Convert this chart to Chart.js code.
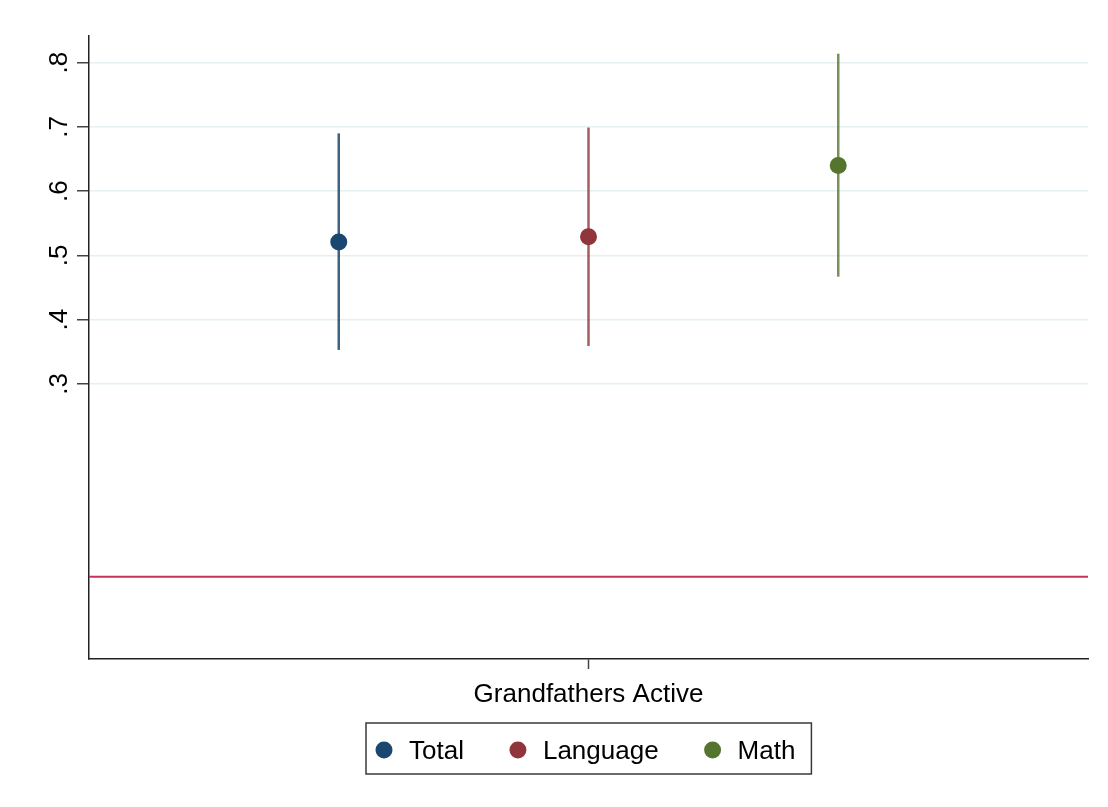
<!DOCTYPE html>
<html>
<head>
<meta charset="utf-8">
<script src="https://cdn.jsdelivr.net/npm/chart.js@4/dist/chart.umd.min.js"></script>
<style>
  html, body { margin: 0; padding: 0; background: #ffffff; }
  #wrap { width: 1108px; height: 807px; }
</style>
</head>
<body>
<div id="wrap"><canvas id="c" width="1108" height="807"></canvas></div>
<script>
// Point estimates with confidence intervals, one per outcome
const seriesNames = ['Total', 'Language', 'Math'];
const seriesColors = ['#1a476f', '#90353b', '#55752f'];
const intervalColors = ['rgba(26,71,111,0.85)', 'rgba(144,53,59,0.8)', 'rgba(85,117,47,0.8)'];
const seriesX = [1, 2, 3];
const estimates = [0.521, 0.529, 0.640];
const ciLower = [0.353, 0.359, 0.467];
const ciUpper = [0.690, 0.699, 0.814];

// Axes
const xRange = [0, 4];
const xTickValues = [2];
const xTickLabels = ['Grandfathers Active'];
const yRange = [-0.128, 0.8415];
const yTickValues = [0.3, 0.4, 0.5, 0.6, 0.7, 0.8];
const yTickLabels = ['.3', '.4', '.5', '.6', '.7', '.8'];

// Horizontal reference line
const referenceY = 0;
const referenceColor = '#c9325c';

const FONT_FAMILY = '"Liberation Sans", Arial, Helvetica, sans-serif';
const FONT_SIZE = 26;

const datasets = [];
datasets.push({
  label: 'reference',
  data: [{ x: xRange[0], y: referenceY }, { x: xRange[1], y: referenceY }],
  showLine: true,
  borderColor: referenceColor,
  borderWidth: 2,
  pointRadius: 0,
  order: 3
});
seriesNames.forEach((name, i) => {
  datasets.push({
    label: name + ' CI',
    data: [{ x: seriesX[i], y: ciLower[i] }, { x: seriesX[i], y: ciUpper[i] }],
    showLine: true,
    borderColor: intervalColors[i],
    borderWidth: 2.5,
    pointRadius: 0,
    order: 2
  });
});
seriesNames.forEach((name, i) => {
  datasets.push({
    label: name,
    data: [{ x: seriesX[i], y: estimates[i] }],
    backgroundColor: seriesColors[i],
    borderWidth: 0,
    pointRadius: 8.5,
    order: 1
  });
});

// Rotated y tick labels (reading bottom to top)
const yLabelsPlugin = {
  id: 'yLabels',
  afterDraw(chart) {
    const ctx = chart.ctx;
    const y = chart.scales.y;
    ctx.save();
    ctx.font = FONT_SIZE + 'px ' + FONT_FAMILY;
    ctx.fillStyle = '#000000';
    ctx.textAlign = 'center';
    ctx.textBaseline = 'alphabetic';
    yTickValues.forEach((v, i) => {
      const py = y.getPixelForValue(v);
      ctx.save();
      ctx.translate(y.left + 67, py);
      ctx.rotate(-Math.PI / 2);
      ctx.fillText(yTickLabels[i], 0, 0);
      ctx.restore();
    });
    ctx.restore();
  }
};

// Boxed legend under the x axis
const legendBoxPlugin = {
  id: 'legendBox',
  afterDraw(chart) {
    const ctx = chart.ctx;
    const area = chart.chartArea;
    ctx.save();
    ctx.font = FONT_SIZE + 'px ' + FONT_FAMILY;
    const r = 8.5, textGap = 25, itemGap = 45.5, padL = 9.5, padR = 16;
    const widths = seriesNames.map(n => ctx.measureText(n).width);
    let content = 0;
    widths.forEach(w => { content += r + textGap + w; });
    content += itemGap * (seriesNames.length - 1);
    const boxW = padL + content + padR;
    const boxH = 51;
    const cx = (area.left + area.right) / 2;
    const left = Math.round(cx - boxW / 2);
    const top = area.bottom + 64;
    ctx.lineWidth = 1.5;
    ctx.strokeStyle = '#3a3a3a';
    ctx.strokeRect(left, top, boxW, boxH);
    let cur = left + padL;
    const midY = top + 27;
    seriesNames.forEach((n, i) => {
      ctx.beginPath();
      ctx.fillStyle = seriesColors[i];
      ctx.arc(cur + r, midY, r, 0, Math.PI * 2);
      ctx.fill();
      ctx.fillStyle = '#000000';
      ctx.textAlign = 'left';
      ctx.textBaseline = 'alphabetic';
      ctx.fillText(n, cur + r + textGap, top + 36);
      cur += r + textGap + widths[i] + itemGap;
    });
    ctx.restore();
  }
};

new Chart(document.getElementById('c'), {
  type: 'scatter',
  data: { datasets },
  plugins: [yLabelsPlugin, legendBoxPlugin],
  options: {
    responsive: false,
    animation: false,
    devicePixelRatio: 1,
    layout: { padding: { left: 0, right: 20, top: 36, bottom: 0 } },
    plugins: {
      legend: { display: false },
      tooltip: { enabled: false }
    },
    scales: {
      x: {
        type: 'linear',
        min: xRange[0],
        max: xRange[1],
        afterFit(s) { s.height = 148; },
        afterBuildTicks(s) { s.ticks = xTickValues.map(v => ({ value: v })); },
        ticks: {
          autoSkip: false,
          maxRotation: 0,
          padding: 10,
          color: '#000000',
          font: { family: FONT_FAMILY, size: FONT_SIZE },
          callback(v) {
            const k = xTickValues.indexOf(v);
            return k >= 0 ? xTickLabels[k] : '';
          }
        },
        grid: {
          drawOnChartArea: false,
          drawTicks: true,
          tickLength: 10,
          tickColor: '#444444',
          tickWidth: 1.5
        },
        border: { color: '#222222', width: 1.5 }
      },
      y: {
        type: 'linear',
        min: yRange[0],
        max: yRange[1],
        afterFit(s) { s.width = 89; },
        afterBuildTicks(s) { s.ticks = yTickValues.map(v => ({ value: v })); },
        ticks: { display: false },
        grid: {
          color: '#e6eff1',
          lineWidth: 1.5,
          drawTicks: true,
          tickLength: 12,
          tickColor: '#444444',
          tickWidth: 1.5
        },
        border: { color: '#222222', width: 1.5 }
      }
    }
  }
});
</script>
</body>
</html>
